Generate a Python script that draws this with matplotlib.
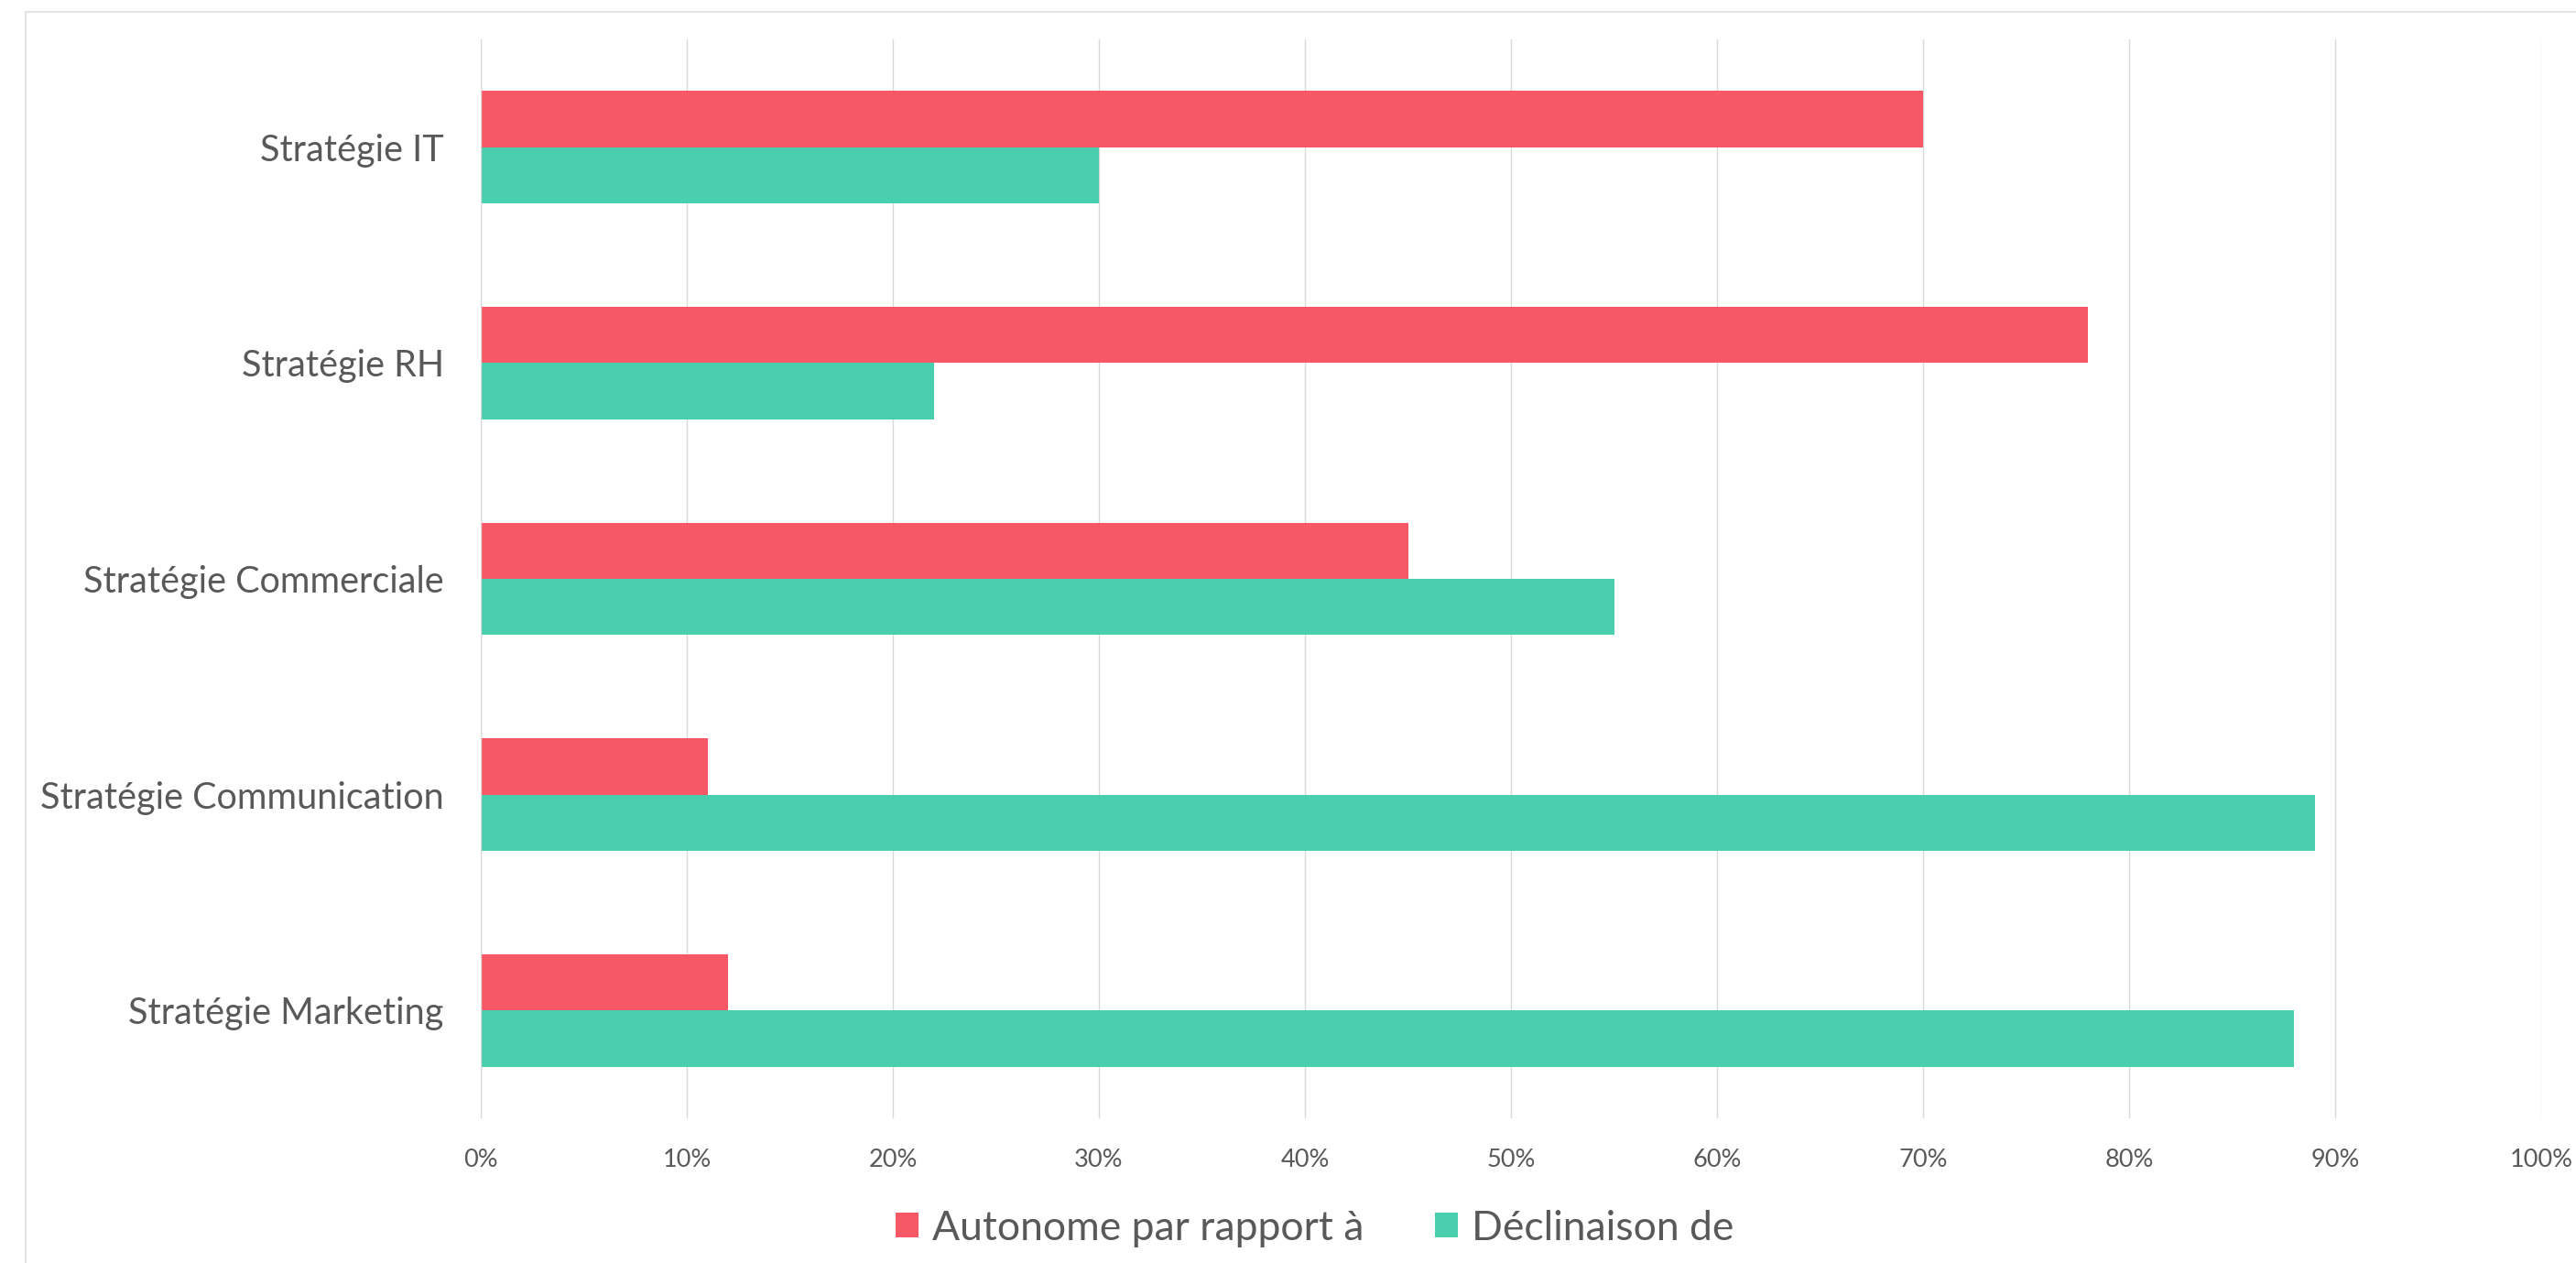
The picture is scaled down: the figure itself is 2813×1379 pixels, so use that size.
import matplotlib
matplotlib.use("Agg")
import matplotlib.pyplot as plt
import numpy as np
from matplotlib.patches import Rectangle
from matplotlib.ticker import PercentFormatter

categories = ["Stratégie IT", "Stratégie RH", "Stratégie Commerciale",
              "Stratégie Communication", "Stratégie Marketing"]
autonome = [70, 78, 45, 11, 12]
declinaison = [30, 22, 55, 89, 88]
series_names = ["Autonome par rapport à", "Déclinaison de"]
xticks = [0, 10, 20, 30, 40, 50, 60, 70, 80, 90, 100]

RED = "#F75866"
TEAL = "#49CFAE"
TXT = "#595959"
GRID = "#D9D9D9"

plt.rcParams['font.family'] = ['Lato', 'DejaVu Sans']

W, H = 2813, 1379
fig = plt.figure(figsize=(W / 100, H / 100), dpi=100)
fig.patch.set_facecolor("white")

# chart frame (light border at left/top)
fig.add_artist(Rectangle((28 / W, -0.01), 1.02, (1 - 13 / H) + 0.01,
                         transform=fig.transFigure, fill=False,
                         edgecolor="#E1E5EA", linewidth=1.6))

ax = fig.add_axes([525 / W, 1 - 1221 / H, 2250 / W, 1178 / H])
y = np.arange(len(categories))
bh = 0.261
ax.barh(y - bh / 2, autonome, height=bh, color=RED, label=series_names[0], zorder=3)
ax.barh(y + bh / 2, declinaison, height=bh, color=TEAL, label=series_names[1], zorder=3)

ax.set_xlim(0, 100)
ax.set_ylim(len(categories) - 0.5, -0.5)
ax.set_xticks(xticks)
ax.xaxis.set_major_formatter(PercentFormatter(decimals=0))
ax.set_yticks(y)
ax.set_yticklabels(categories)
ax.tick_params(axis='y', length=0, pad=29, labelsize=28.5, labelcolor=TXT)
ax.tick_params(axis='x', length=0, pad=24, labelsize=19.5, labelcolor=TXT)
ax.grid(axis='x', color=GRID, linewidth=1.0, zorder=0)
ax.grid(axis='y', visible=False)
for s in ax.spines.values():
    s.set_visible(False)
ax.axvline(0, color=GRID, linewidth=1.0, zorder=4)

leg = fig.legend(loc='center', bbox_to_anchor=(1436 / W, 1 - 1341 / H),
                 ncol=2, frameon=False, fontsize=32,
                 handlelength=0.55, handleheight=0.55, handletextpad=0.35,
                 columnspacing=1.75, labelcolor=TXT)

fig.savefig("out.png", dpi=100, facecolor="white")
